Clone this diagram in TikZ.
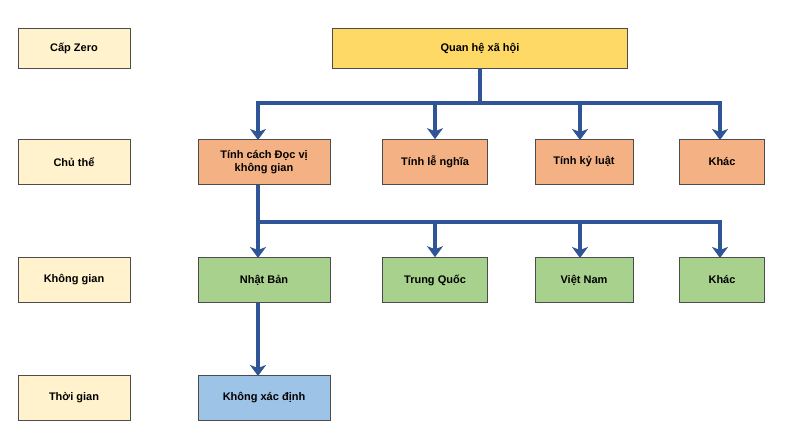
\documentclass[tikz,border=0pt]{standalone}
\usepackage{fontspec}
\setmainfont{Liberation Sans}
\usetikzlibrary{arrows.meta}
\definecolor{lvl}{HTML}{FFF2CC}
\definecolor{topc}{HTML}{FFD966}
\definecolor{orc}{HTML}{F4B183}
\definecolor{grc}{HTML}{A9D18E}
\definecolor{blc}{HTML}{9DC3E6}
\definecolor{line}{HTML}{2F5597}
\tikzset{
 box/.style={draw=black!70,line width=0.6pt,font=\bfseries\fontsize{11}{13}\selectfont,align=center,inner sep=0pt},
 conn/.style={draw=line,line width=4pt},
 arr/.style={conn,-{Stealth[length=11pt,width=16pt,inset=3pt]}}
}
\begin{document}
\begin{tikzpicture}[x=1pt,y=-1pt]
\useasboundingbox (0,0) rectangle (800,435);
\newcommand{\bx}[7]{\node[box,fill=#2,minimum width=#5pt,minimum height=#6pt] (#1) at (#3,#4) {#7};}
\bx{l1}{lvl}{74}{48}{112}{40}{Cấp Zero}
\bx{l2}{lvl}{74}{162}{112}{45}{Chủ thể}
\bx{l3}{lvl}{74}{280}{112}{45}{Không gian}
\bx{l4}{lvl}{74}{398}{112}{45}{Thời gian}
\bx{top}{topc}{480}{48}{295}{40}{Quan hệ xã hội}
\bx{a1}{orc}{264}{162}{132}{45}{Tính cách Đọc vị\\không gian}
\bx{a2}{orc}{435}{162}{105}{45}{Tính lễ nghĩa}
\bx{a3}{orc}{584}{162}{98}{45}{Tính kỷ luật}
\bx{a4}{orc}{722}{162}{85}{45}{Khác}
\bx{b1}{grc}{264}{280}{132}{45}{Nhật Bản}
\bx{b2}{grc}{435}{280}{105}{45}{Trung Quốc}
\bx{b3}{grc}{584}{280}{98}{45}{Việt Nam}
\bx{b4}{grc}{722}{280}{85}{45}{Khác}
\bx{c1}{blc}{264}{398}{132}{45}{Không xác định}
\coordinate (h1) at (480,103);
\coordinate (h2) at (258,222);
\draw[conn] (top.south) -- (h1);
\draw[conn,line cap=rect] (258,103) -- (720,103);
\draw[arr] (258,103) -- (258,140);
\draw[arr] (435,103) -- (a2.north);
\draw[arr] (580,103) -- (580,140);
\draw[arr] (720,103) -- (720,140);
\draw[conn] (258,185) -- (h2);
\draw[conn,line cap=rect] (h2) -- (720,222);
\draw[arr] (h2) -- (258,258);
\draw[arr] (435,222) -- (b2.north);
\draw[arr] (580,222) -- (580,258);
\draw[arr] (720,222) -- (720,258);
\draw[arr] (258,303) -- (258,376);
\end{tikzpicture}
\end{document}
